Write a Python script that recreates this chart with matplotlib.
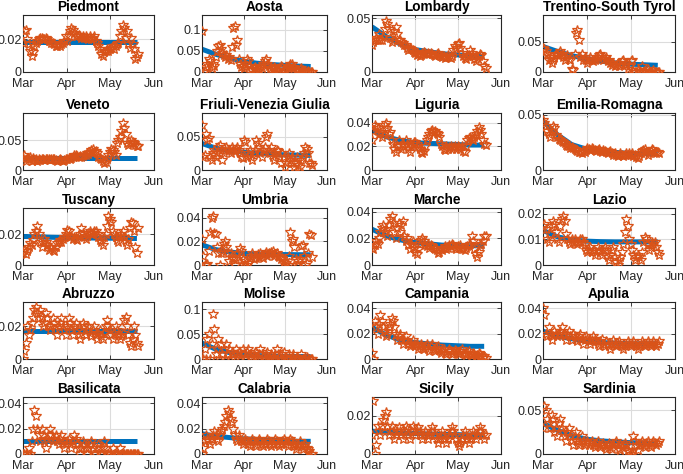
import numpy as np
import matplotlib
matplotlib.use("Agg")
import matplotlib.pyplot as plt

plt.rcParams['font.family'] = ['Liberation Sans', 'DejaVu Sans']

# ---------------- data ----------------
regions = ["Piedmont", "Aosta", "Lombardy", "Trentino-South Tyrol",
           "Veneto", "Friuli-Venezia Giulia", "Liguria", "Emilia-Romagna",
           "Tuscany", "Umbria", "Marche", "Lazio",
           "Abruzzo", "Molise", "Campania", "Apulia",
           "Basilicata", "Calabria", "Sicily", "Sardinia"]

start_date = np.datetime64('2020-03-01')
fit_days = [0, 10, 20, 30, 40, 50, 60, 70, 80]
month_ticks = ['2020-03-01', '2020-04-01', '2020-05-01', '2020-06-01']
month_labels = ['Mar', 'Apr', 'May', 'Jun']

piedmont = [0.018, 0.025, 0.026, 0.02, 0.017, 0.013, 0.010, 0.012, 0.016, 0.018, 0.019, 0.020, 0.021, 0.021, 0.020, 0.020, 0.021, 0.020, 0.019, 0.019, 0.018, 0.018, 0.017, 0.016, 0.016, 0.017, 0.016, 0.017, 0.018, 0.019, 0.022,
            0.019, 0.022, 0.025, 0.027, 0.026, 0.024, 0.022, 0.022, 0.023, 0.022, 0.021, 0.022, 0.021, 0.022, 0.021, 0.020, 0.022, 0.020, 0.021, 0.022, 0.019, 0.018, 0.016, 0.014, 0.011, 0.010, 0.012, 0.013, 0.014, 0.013,
            0.014, 0.015, 0.016, 0.014, 0.016, 0.017, 0.018, 0.022, 0.025, 0.029, 0.027, 0.021, 0.025, 0.017, 0.015, 0.021, 0.017, 0.014, 0.008, 0.009, 0.011]
piedmont_fit = [0.0185, 0.0185, 0.0185, 0.0185, 0.0185, 0.0185, 0.0185, 0.0185, 0.0185]

aosta = [0.098, 0.0, 0.003, 0.012, 0.02, 0.03, 0.025, 0.01, 0.02, 0.015, 0.035, 0.05, 0.062, 0.065, 0.055, 0.045, 0.04, 0.035, 0.04, 0.03, 0.035, 0.028, 0.06, 0.105, 0.11, 0.065, 0.075, 0.03, 0.02, 0.012, 0.015,
         0.01, 0.02, 0.03, 0.025, 0.015, 0.008, 0.005, 0.01, 0.012, 0.005, 0.002, 0.008, 0.015, 0.01, 0.02, 0.025, 0.03, 0.02, 0.015, 0.01, 0.005, 0.008, 0.012, 0.01, 0.005, 0.002, 0.01, 0.015, 0.012, 0.005,
         0.003, 0.005, 0.01, 0.015, 0.02, 0.018, 0.012, 0.01, 0.005, 0.002, 0.005, 0.008, 0.01, 0.005, 0.002, 0.0, 0.0, 0.002, 0.0, 0.0, 0.0]
aosta_fit = [0.054, 0.042, 0.033, 0.026, 0.021, 0.018, 0.016, 0.014, 0.013]

lombardy = [0.025, 0.028, 0.03, 0.032, 0.03, 0.035, 0.03, 0.03, 0.033, 0.04, 0.047, 0.045, 0.04, 0.032, 0.028, 0.03, 0.038, 0.042, 0.035, 0.03, 0.03, 0.028, 0.027, 0.025, 0.025, 0.022, 0.02, 0.022, 0.021, 0.02, 0.019,
            0.018, 0.016, 0.017, 0.015, 0.016, 0.018, 0.019, 0.018, 0.017, 0.018, 0.017, 0.018, 0.017, 0.016, 0.015, 0.017, 0.018, 0.016, 0.015, 0.014, 0.015, 0.013, 0.014, 0.016, 0.014, 0.013, 0.015, 0.02, 0.024, 0.022,
            0.026, 0.027, 0.022, 0.018, 0.015, 0.013, 0.012, 0.015, 0.016, 0.02, 0.018, 0.015, 0.012, 0.01, 0.013, 0.015, 0.017, 0.016, 0.01, 0.006, 0.004]
lombardy_fit = [0.042, 0.033, 0.026, 0.021, 0.019, 0.017, 0.016, 0.015, 0.0145]

trentino = [0.04, 0.038, 0.035, 0.03, 0.02, 0.025, 0.015, 0.02, 0.025, 0.03, 0.028, 0.032, 0.035, 0.03, 0.025, 0.02, 0.025, 0.028, 0.022, 0.02, 0.005, 0.003, 0.03, 0.065, 0.07, 0.052, 0.025, 0.03, 0.02, 0.025, 0.02,
            0.015, 0.02, 0.025, 0.02, 0.018, 0.02, 0.022, 0.025, 0.028, 0.03, 0.025, 0.02, 0.022, 0.025, 0.018, 0.02, 0.015, 0.012, 0.015, 0.01, 0.012, 0.015, 0.01, 0.012, 0.018, 0.02, 0.015, 0.012, 0.005, 0.01,
            0.018, 0.02, 0.002, 0.0, 0.0, 0.003, 0.0, 0.0, 0.01, 0.0, 0.002, 0.0, 0.005, 0.0, 0.0, 0.0, 0.003, 0.0, 0.0, 0.0, 0.0]
trentino_fit = [0.042, 0.034, 0.027, 0.022, 0.018, 0.015, 0.013, 0.012, 0.011]

veneto = [0.02, 0.025, 0.015, 0.02, 0.018, 0.022, 0.015, 0.02, 0.017, 0.018, 0.016, 0.018, 0.017, 0.019, 0.018, 0.017, 0.018, 0.019, 0.018, 0.017, 0.018, 0.019, 0.018, 0.017, 0.016, 0.017, 0.018, 0.017, 0.016, 0.017, 0.018,
          0.018, 0.02, 0.019, 0.02, 0.022, 0.025, 0.026, 0.024, 0.022, 0.023, 0.022, 0.024, 0.025, 0.026, 0.028, 0.027, 0.03, 0.033, 0.035, 0.03, 0.032, 0.028, 0.022, 0.02, 0.018, 0.015, 0.012, 0.013, 0.018, 0.025,
          0.03, 0.035, 0.033, 0.03, 0.025, 0.045, 0.05, 0.055, 0.065, 0.08, 0.07, 0.06, 0.045, 0.042, 0.045, 0.05, 0.048, 0.045, 0.042, 0.04, 0.04]
veneto_fit = [0.021, 0.021, 0.021, 0.021, 0.021, 0.021, 0.021, 0.021, 0.021]

friuli = [0.068, 0.02, 0.022, 0.055, 0.045, 0.048, 0.02, 0.015, 0.025, 0.03, 0.02, 0.025, 0.035, 0.038, 0.03, 0.015, 0.025, 0.03, 0.035, 0.03, 0.03, 0.025, 0.035, 0.03, 0.028, 0.032, 0.035, 0.03, 0.025, 0.02, 0.018,
          0.045, 0.042, 0.02, 0.025, 0.03, 0.02, 0.015, 0.025, 0.03, 0.045, 0.04, 0.035, 0.025, 0.02, 0.03, 0.035, 0.05, 0.055, 0.03, 0.025, 0.035, 0.02, 0.015, 0.025, 0.03, 0.028, 0.02, 0.01, 0.025, 0.02,
          0.005, 0.01, 0.02, 0.025, 0.015, 0.02, 0.01, 0.005, 0.01, 0.02, 0.008, 0.005, 0.015, 0.02, 0.025, 0.035, 0.032, 0.025, 0.01, 0.01, 0.008]
friuli_fit = [0.04, 0.033, 0.029, 0.027, 0.025, 0.024, 0.023, 0.0225, 0.022]

liguria = [0.025, 0.033, 0.038, 0.036, 0.035, 0.03, 0.032, 0.028, 0.03, 0.038, 0.04, 0.035, 0.03, 0.032, 0.025, 0.022, 0.018, 0.015, 0.02, 0.025, 0.02, 0.018, 0.022, 0.02, 0.025, 0.022, 0.018, 0.015, 0.02, 0.022, 0.024,
           0.024, 0.022, 0.02, 0.018, 0.015, 0.014, 0.016, 0.02, 0.025, 0.028, 0.03, 0.033, 0.034, 0.032, 0.033, 0.031, 0.03, 0.028, 0.022, 0.02, 0.018, 0.017, 0.02, 0.018, 0.019, 0.02, 0.018, 0.019, 0.02, 0.018,
           0.02, 0.019, 0.018, 0.02, 0.016, 0.015, 0.02, 0.025, 0.027, 0.028, 0.026, 0.025, 0.028, 0.03, 0.033, 0.036, 0.034, 0.03, 0.025, 0.022, 0.021]
liguria_fit = [0.034, 0.028, 0.025, 0.023, 0.0225, 0.022, 0.0215, 0.021, 0.021]

emilia = [0.045, 0.043, 0.04, 0.035, 0.033, 0.03, 0.035, 0.04, 0.038, 0.032, 0.03, 0.028, 0.027, 0.026, 0.025, 0.024, 0.023, 0.022, 0.022, 0.02, 0.021, 0.02, 0.019, 0.018, 0.017, 0.016, 0.016, 0.015, 0.017, 0.016, 0.018,
          0.02, 0.019, 0.018, 0.02, 0.019, 0.018, 0.017, 0.018, 0.019, 0.017, 0.016, 0.018, 0.017, 0.016, 0.015, 0.016, 0.017, 0.015, 0.014, 0.015, 0.014, 0.013, 0.014, 0.015, 0.014, 0.013, 0.014, 0.015, 0.014, 0.015,
          0.014, 0.015, 0.013, 0.014, 0.012, 0.011, 0.013, 0.015, 0.017, 0.018, 0.019, 0.016, 0.014, 0.015, 0.017, 0.019, 0.018, 0.016, 0.015, 0.016, 0.015]
emilia_fit = [0.044, 0.032, 0.023, 0.019, 0.017, 0.016, 0.015, 0.015, 0.015]

tuscany = [0.008, 0.01, 0.007, 0.009, 0.012, 0.014, 0.013, 0.016, 0.02, 0.022, 0.025, 0.02, 0.015, 0.012, 0.014, 0.017, 0.015, 0.013, 0.01, 0.012, 0.011, 0.01, 0.009, 0.012, 0.014, 0.015, 0.016, 0.015, 0.017, 0.018, 0.02,
           0.023, 0.022, 0.018, 0.019, 0.017, 0.018, 0.017, 0.016, 0.019, 0.02, 0.024, 0.021, 0.018, 0.017, 0.019, 0.021, 0.022, 0.02, 0.021, 0.022, 0.022, 0.02, 0.018, 0.016, 0.015, 0.013, 0.018, 0.02, 0.025, 0.032,
           0.03, 0.028, 0.022, 0.02, 0.018, 0.016, 0.015, 0.018, 0.02, 0.022, 0.018, 0.015, 0.013, 0.017, 0.024, 0.028, 0.027, 0.022, 0.012, 0.008, 0.024]
tuscany_fit = [0.0185, 0.0183, 0.018, 0.0178, 0.0176, 0.0175, 0.0174, 0.0173, 0.0172]

umbria = [0.022, 0.008, 0.0, 0.0, 0.001, 0.012, 0.028, 0.04, 0.041, 0.027, 0.026, 0.015, 0.01, 0.0, 0.01, 0.012, 0.018, 0.02, 0.015, 0.01, 0.003, 0.01, 0.006, 0.005, 0.0, 0.005, 0.01, 0.007, 0.014, 0.012, 0.005,
          0.0, 0.003, 0.0, 0.002, 0.006, 0.008, 0.01, 0.005, 0.008, 0.006, 0.009, 0.007, 0.01, 0.008, 0.006, 0.009, 0.011, 0.008, 0.01, 0.009, 0.011, 0.012, 0.008, 0.009, 0.01, 0.008, 0.007, 0.005, 0.006, 0.003,
          0.0, 0.002, 0.0, 0.008, 0.028, 0.02, 0.022, 0.015, 0.005, 0.0, 0.003, 0.005, 0.016, 0.017, 0.008, 0.0, 0.002, 0.01, 0.026, 0.025, 0.007]
umbria_fit = [0.017, 0.013, 0.011, 0.0098, 0.0093, 0.009, 0.0088, 0.0087, 0.0086]

marche = [0.013, 0.012, 0.015, 0.018, 0.016, 0.02, 0.025, 0.028, 0.03, 0.025, 0.027, 0.022, 0.03, 0.035, 0.037, 0.032, 0.025, 0.02, 0.028, 0.032, 0.025, 0.03, 0.033, 0.022, 0.018, 0.02, 0.015, 0.012, 0.016, 0.018, 0.013,
          0.01, 0.008, 0.012, 0.016, 0.019, 0.02, 0.018, 0.015, 0.014, 0.016, 0.013, 0.015, 0.014, 0.013, 0.012, 0.011, 0.009, 0.01, 0.012, 0.011, 0.013, 0.014, 0.012, 0.013, 0.015, 0.014, 0.016, 0.015, 0.013, 0.012,
          0.014, 0.013, 0.015, 0.013, 0.012, 0.011, 0.013, 0.014, 0.015, 0.016, 0.022, 0.018, 0.012, 0.008, 0.006, 0.01, 0.015, 0.016, 0.018, 0.022, 0.022]
marche_fit = [0.027, 0.022, 0.019, 0.017, 0.016, 0.015, 0.015, 0.0145, 0.0145]

lazio = [0.015, 0.016, 0.014, 0.01, 0.009, 0.012, 0.015, 0.017, 0.016, 0.013, 0.01, 0.009, 0.015, 0.018, 0.019, 0.017, 0.012, 0.01, 0.009, 0.008, 0.01, 0.009, 0.01, 0.009, 0.008, 0.009, 0.01, 0.01, 0.009, 0.008, 0.006,
         0.005, 0.006, 0.007, 0.005, 0.006, 0.004, 0.005, 0.007, 0.006, 0.005, 0.004, 0.006, 0.007, 0.006, 0.003, 0.002, 0.004, 0.006, 0.007, 0.003, 0.001, 0.0, 0.002, 0.003, 0.005, 0.008, 0.013, 0.018, 0.015, 0.01,
         0.008, 0.006, 0.004, 0.002, 0.003, 0.004, 0.003, 0.002, 0.005, 0.009, 0.011, 0.01, 0.008, 0.006, 0.007, 0.009, 0.008, 0.009, 0.007, 0.005, 0.004]
lazio_fit = [0.0135, 0.011, 0.0098, 0.0093, 0.0091, 0.009, 0.009, 0.009, 0.009]

abruzzo = [0.0, 0.005, 0.01, 0.02, 0.015, 0.018, 0.022, 0.025, 0.03, 0.032, 0.028, 0.025, 0.03, 0.026, 0.02, 0.022, 0.028, 0.025, 0.02, 0.018, 0.02, 0.025, 0.022, 0.018, 0.015, 0.02, 0.022, 0.025, 0.02, 0.018, 0.015,
           0.02, 0.025, 0.022, 0.018, 0.015, 0.02, 0.022, 0.018, 0.015, 0.012, 0.018, 0.022, 0.02, 0.015, 0.018, 0.02, 0.016, 0.014, 0.018, 0.02, 0.015, 0.012, 0.016, 0.018, 0.014, 0.012, 0.016, 0.02, 0.024, 0.02,
           0.018, 0.015, 0.012, 0.016, 0.02, 0.018, 0.015, 0.012, 0.014, 0.016, 0.024, 0.026, 0.02, 0.015, 0.01, 0.008, 0.012, 0.02, 0.015, 0.01, 0.008]
abruzzo_fit = [0.017, 0.017, 0.017, 0.017, 0.017, 0.017, 0.017, 0.017, 0.017]

molise = [0.0, 0.0, 0.02, 0.0, 0.04, 0.05, 0.0, 0.03, 0.09, 0.06, 0.01, 0.02, 0.04, 0.0, 0.03, 0.01, 0.02, 0.0, 0.03, 0.01, 0.02, 0.0, 0.015, 0.01, 0.0, 0.02, 0.01, 0.015, 0.0, 0.01, 0.02,
          0.01, 0.0, 0.015, 0.02, 0.01, 0.005, 0.0, 0.01, 0.015, 0.005, 0.0, 0.01, 0.02, 0.01, 0.005, 0.0, 0.01, 0.015, 0.005, 0.0, 0.01, 0.005, 0.0, 0.01, 0.02, 0.01, 0.005, 0.0, 0.01, 0.015,
          0.005, 0.0, 0.0, 0.01, 0.0, 0.005, 0.01, 0.0, 0.0, 0.005, 0.0, 0.0, 0.01, 0.0, 0.0, 0.0, 0.005, 0.0, 0.0, 0.0, 0.0]
molise_fit = [0.032, 0.02, 0.013, 0.009, 0.007, 0.006, 0.005, 0.005, 0.005]

campania = [0.005, 0.0, 0.03, 0.025, 0.02, 0.028, 0.035, 0.03, 0.025, 0.022, 0.018, 0.02, 0.025, 0.028, 0.032, 0.03, 0.025, 0.02, 0.015, 0.018, 0.02, 0.015, 0.012, 0.015, 0.018, 0.014, 0.012, 0.01, 0.012, 0.015, 0.012,
            0.01, 0.012, 0.008, 0.01, 0.012, 0.009, 0.008, 0.01, 0.012, 0.008, 0.006, 0.01, 0.012, 0.008, 0.006, 0.008, 0.01, 0.007, 0.005, 0.006, 0.008, 0.005, 0.004, 0.006, 0.008, 0.006, 0.004, 0.005, 0.007, 0.006,
            0.005, 0.004, 0.006, 0.008, 0.005, 0.004, 0.003, 0.005, 0.006, 0.004, 0.003, 0.005, 0.004, 0.002, 0.003, 0.005, 0.004, 0.002, 0.001, 0.002, 0.001]
campania_fit = [0.025, 0.019, 0.015, 0.013, 0.012, 0.011, 0.0105, 0.01, 0.01]

apulia = [0.04, 0.035, 0.02, 0.018, 0.025, 0.02, 0.015, 0.018, 0.022, 0.02, 0.018, 0.02, 0.022, 0.025, 0.02, 0.018, 0.015, 0.02, 0.022, 0.018, 0.015, 0.02, 0.018, 0.016, 0.014, 0.018, 0.02, 0.016, 0.012, 0.015, 0.018,
          0.016, 0.014, 0.012, 0.015, 0.018, 0.016, 0.014, 0.012, 0.01, 0.014, 0.016, 0.012, 0.01, 0.014, 0.012, 0.01, 0.008, 0.012, 0.015, 0.012, 0.01, 0.012, 0.014, 0.012, 0.01, 0.008, 0.01, 0.012, 0.014, 0.012,
          0.01, 0.012, 0.014, 0.012, 0.01, 0.008, 0.01, 0.012, 0.014, 0.012, 0.01, 0.012, 0.014, 0.012, 0.01, 0.012, 0.014, 0.012, 0.01, 0.012, 0.014]
apulia_fit = [0.022, 0.018, 0.016, 0.014, 0.013, 0.0125, 0.012, 0.012, 0.012]

basilicata = [0.0, 0.0, 0.0, 0.0, 0.005, 0.0, 0.01, 0.02, 0.035, 0.03, 0.02, 0.015, 0.01, 0.02, 0.015, 0.01, 0.005, 0.012, 0.015, 0.02, 0.015, 0.01, 0.012, 0.015, 0.01, 0.008, 0.012, 0.015, 0.01, 0.005, 0.008,
              0.01, 0.012, 0.008, 0.005, 0.01, 0.015, 0.012, 0.008, 0.005, 0.0, 0.005, 0.01, 0.008, 0.005, 0.0, 0.005, 0.008, 0.01, 0.005, 0.0, 0.0, 0.005, 0.008, 0.005, 0.0, 0.005, 0.01, 0.005, 0.0, 0.0,
              0.0, 0.0, 0.005, 0.0, 0.0, 0.0, 0.0, 0.005, 0.0, 0.0, 0.0, 0.0, 0.0, 0.0, 0.0, 0.0, 0.0, 0.0, 0.0, 0.0, 0.0]
basilicata_fit = [0.01, 0.01, 0.01, 0.01, 0.01, 0.01, 0.01, 0.01, 0.01]

calabria = [0.0, 0.005, 0.01, 0.015, 0.012, 0.01, 0.008, 0.012, 0.015, 0.018, 0.015, 0.012, 0.01, 0.015, 0.018, 0.02, 0.022, 0.025, 0.03, 0.035, 0.032, 0.028, 0.025, 0.02, 0.015, 0.012, 0.01, 0.015, 0.012, 0.01, 0.008,
            0.01, 0.012, 0.01, 0.008, 0.006, 0.01, 0.012, 0.01, 0.008, 0.006, 0.01, 0.012, 0.01, 0.008, 0.006, 0.008, 0.01, 0.012, 0.01, 0.008, 0.006, 0.008, 0.01, 0.012, 0.01, 0.008, 0.006, 0.008, 0.01, 0.012,
            0.01, 0.008, 0.006, 0.01, 0.012, 0.01, 0.008, 0.006, 0.004, 0.006, 0.008, 0.01, 0.006, 0.004, 0.006, 0.008, 0.005, 0.004, 0.002, 0.0, 0.0]
calabria_fit = [0.016, 0.014, 0.013, 0.012, 0.0115, 0.011, 0.0105, 0.01, 0.01]

sicily = [0.01, 0.028, 0.0, 0.005, 0.015, 0.012, 0.01, 0.015, 0.018, 0.02, 0.022, 0.015, 0.01, 0.012, 0.015, 0.012, 0.008, 0.01, 0.012, 0.014, 0.012, 0.01, 0.008, 0.012, 0.015, 0.013, 0.01, 0.008, 0.012, 0.015, 0.012,
          0.01, 0.012, 0.014, 0.012, 0.01, 0.008, 0.01, 0.012, 0.01, 0.008, 0.01, 0.012, 0.014, 0.012, 0.01, 0.008, 0.006, 0.008, 0.01, 0.012, 0.01, 0.008, 0.006, 0.008, 0.01, 0.012, 0.014, 0.012, 0.01, 0.008,
          0.006, 0.004, 0.006, 0.008, 0.01, 0.012, 0.01, 0.008, 0.006, 0.008, 0.01, 0.012, 0.01, 0.008, 0.01, 0.012, 0.014, 0.012, 0.01, 0.008, 0.01]
sicily_fit = [0.012, 0.0115, 0.011, 0.0108, 0.0105, 0.0103, 0.0102, 0.01, 0.01]

sardinia = [0.03, 0.055, 0.05, 0.04, 0.035, 0.03, 0.045, 0.04, 0.025, 0.03, 0.02, 0.035, 0.04, 0.03, 0.025, 0.02, 0.015, 0.025, 0.03, 0.02, 0.015, 0.01, 0.02, 0.025, 0.015, 0.01, 0.012, 0.02, 0.015, 0.01, 0.012,
            0.015, 0.01, 0.012, 0.015, 0.01, 0.008, 0.012, 0.015, 0.01, 0.008, 0.01, 0.012, 0.008, 0.006, 0.01, 0.012, 0.008, 0.006, 0.01, 0.012, 0.015, 0.01, 0.006, 0.005, 0.008, 0.01, 0.012, 0.01, 0.005, 0.002,
            0.0, 0.003, 0.02, 0.015, 0.01, 0.005, 0.01, 0.012, 0.015, 0.01, 0.008, 0.012, 0.015, 0.01, 0.008, 0.012, 0.015, 0.012, 0.01, 0.012, 0.015]
sardinia_fit = [0.035, 0.027, 0.021, 0.017, 0.015, 0.014, 0.013, 0.0125, 0.012]

series = [piedmont, aosta, lombardy, trentino, veneto, friuli, liguria, emilia,
          tuscany, umbria, marche, lazio, abruzzo, molise, campania, apulia,
          basilicata, calabria, sicily, sardinia]
fits = [piedmont_fit, aosta_fit, lombardy_fit, trentino_fit, veneto_fit, friuli_fit,
        liguria_fit, emilia_fit, tuscany_fit, umbria_fit, marche_fit, lazio_fit,
        abruzzo_fit, molise_fit, campania_fit, apulia_fit, basilicata_fit,
        calabria_fit, sicily_fit, sardinia_fit]
y_max = [0.035, 0.135, 0.053, 0.094, 0.096, 0.086, 0.048, 0.0516, 0.037, 0.048,
         0.043, 0.0222, 0.035, 0.115, 0.045, 0.045, 0.045, 0.045, 0.03, 0.065]
y_ticks = [[0, 0.02], [0, 0.05, 0.1], [0, 0.05], [0, 0.05], [0, 0.05], [0, 0.05],
           [0, 0.02, 0.04], [0, 0.05], [0, 0.02], [0, 0.02, 0.04], [0, 0.02, 0.04],
           [0, 0.01, 0.02], [0, 0.02], [0, 0.05, 0.1], [0, 0.02, 0.04], [0, 0.02, 0.04],
           [0, 0.02, 0.04], [0, 0.02, 0.04], [0, 0.02], [0, 0.05]]

# ---------------- layout ----------------
W, H = 683, 474
col_left = [23, 202, 372, 543]
col_right = [154, 327, 501, 675]
row_top = [15, 113, 208, 302, 397]
row_h = 57

fig = plt.figure(figsize=(W / 100, H / 100), dpi=100)
blue = '#0072BD'
orange = '#D95319'

for k, name in enumerate(regions):
    r, c = divmod(k, 4)
    x0 = col_left[c] / W
    w = (col_right[c] - col_left[c]) / W
    y0 = 1 - (row_top[r] + row_h) / H
    h = row_h / H
    ax = fig.add_axes([x0, y0, w, h])
    vals = series[k]
    dates = start_date + np.arange(len(vals)).astype('timedelta64[D]')
    fdates = start_date + np.array(fit_days).astype('timedelta64[D]')
    ax.plot(fdates, fits[k], color=blue, lw=3.6, solid_capstyle='butt', zorder=2)
    ax.plot(dates, vals, linestyle='none', marker='*', ms=7,
            mfc='none', mec=orange, mew=0.9, zorder=3)
    ax.set_xlim(np.datetime64(month_ticks[0]), np.datetime64(month_ticks[-1]))
    ax.set_xticks([np.datetime64(t) for t in month_ticks])
    ax.set_xticklabels(month_labels)
    ax.set_ylim(0, y_max[k])
    ax.set_yticks(y_ticks[k])
    ax.set_yticklabels([f"{v:g}" for v in y_ticks[k]])
    ax.grid(True, color='#dcdcdc', lw=0.8)
    ax.set_axisbelow(True)
    for s in ax.spines.values():
        s.set_color('#262626')
        s.set_linewidth(0.8)
    ax.tick_params(direction='in', length=3, width=0.6, labelsize=9,
                   colors='#262626', top=True, right=True)
    ax.tick_params(axis='x', pad=4)
    ax.tick_params(axis='y', pad=1)
    ax.set_title(name, fontsize=9.8, fontweight='bold', pad=3)

fig.savefig('out.png', dpi=100)
